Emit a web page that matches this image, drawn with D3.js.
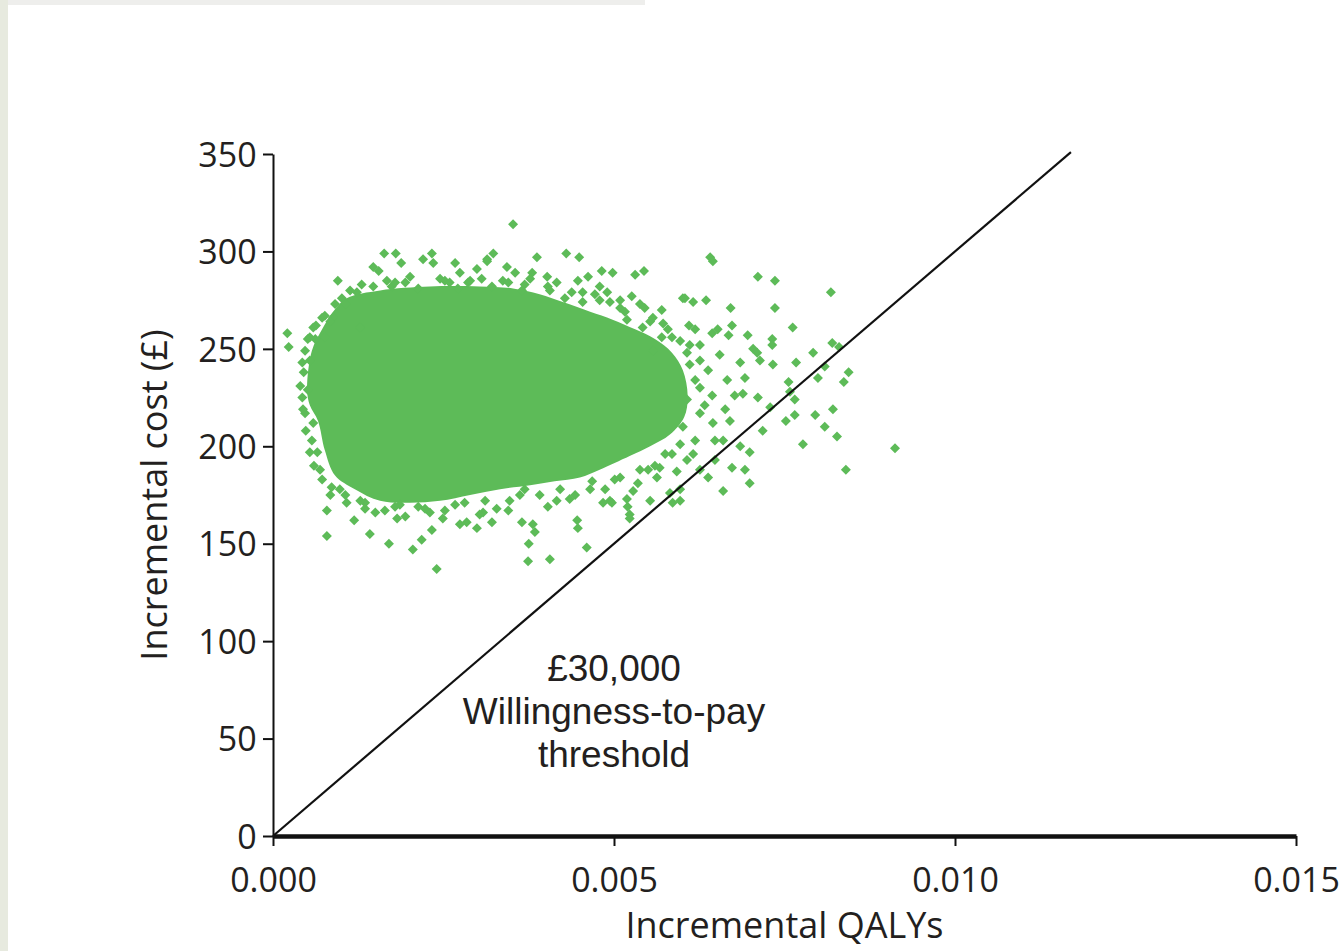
<!DOCTYPE html>
<html>
<head>
<meta charset="utf-8">
<script src="https://cdn.jsdelivr.net/npm/d3@7"></script>
<style>
  body { margin: 0; background: #ffffff; }
  svg text { font-family: "Open Sans", sans-serif; fill: #231f20; }
</style>
</head>
<body>
<div id="chart"></div>
<script>
// ---- data ----
// incremental QALYs / incremental cost (£) tick values
const xTicks = [0, 0.005, 0.010, 0.015];
const yTicks = [0, 50, 100, 150, 200, 250, 300, 350];

// willingness-to-pay threshold (£ per QALY)
const wtp = 30000;
const thresholdLabel = ["£30,000", "Willingness-to-pay", "threshold"];

// outline of the solid, fully overplotted part of the cloud [qaly, cost]
const coreOutline = [
  [0.00050, 229], [0.00057, 249], [0.00072, 260], [0.00088, 269], [0.00108, 276],
  [0.00157, 280], [0.00230, 282], [0.00303, 282], [0.00352, 281], [0.00391, 278],
  [0.00425, 274], [0.00465, 269], [0.00498, 265], [0.00531, 260], [0.00560, 255],
  [0.00585, 248], [0.00601, 239], [0.00608, 226], [0.00603, 215], [0.00582, 206],
  [0.00553, 200], [0.00523, 195], [0.00479, 188], [0.00450, 184], [0.00413, 182],
  [0.00377, 180], [0.00333, 178], [0.00289, 175], [0.00245, 172], [0.00201, 171],
  [0.00157, 172], [0.00120, 178], [0.00091, 185], [0.00076, 198], [0.00066, 213],
  [0.00054, 221]
];

// individual simulations that stand out around the edge of the cloud [qaly, cost]
const scatterPoints = [
  // upper fringe
  [0.00163, 299], [0.00180, 299], [0.00147, 292], [0.00155, 290], [0.00095, 285],
  [0.00188, 294], [0.00220, 296], [0.00233, 299], [0.00235, 294], [0.00267, 294],
  [0.00299, 291], [0.00314, 296], [0.00167, 285], [0.00201, 287], [0.00245, 286],
  [0.00274, 289], [0.00101, 276], [0.00123, 279], [0.00147, 282], [0.00072, 266],
  [0.00059, 261], [0.00088, 266], [0.00021, 258], [0.00023, 251], [0.00051, 255],
  [0.00076, 256], [0.00054, 244], [0.00051, 229], [0.00128, 261],
  [0.00352, 314], [0.00323, 299], [0.00314, 295], [0.00387, 297], [0.00430, 299],
  [0.00449, 297], [0.00482, 290], [0.00498, 289], [0.00531, 288], [0.00544, 290],
  [0.00462, 287], [0.00343, 292], [0.00355, 289], [0.00380, 289], [0.00402, 287],
  [0.00416, 284], [0.00454, 279], [0.00479, 282], [0.00490, 279], [0.00526, 277],
  [0.00601, 276], [0.00545, 271], [0.00570, 270], [0.00557, 266], [0.00542, 261],
  [0.00572, 263], [0.00585, 256], [0.00597, 254], [0.00607, 248], [0.00570, 256],
  [0.00557, 249], [0.00509, 271], [0.00519, 265], [0.00337, 285], [0.00428, 276],
  [0.00454, 274],
  [0.00113, 280], [0.00130, 283], [0.00174, 282], [0.00194, 284], [0.00213, 281],
  [0.00252, 285], [0.00271, 281], [0.00286, 284], [0.00306, 286], [0.00321, 282],
  [0.00345, 284], [0.00365, 280], [0.00377, 286], [0.00403, 282], [0.00438, 279],
  [0.00447, 285], [0.00472, 278], [0.00509, 275], [0.00538, 273], [0.00516, 269],
  [0.00553, 264], [0.00494, 274],
  // right-hand tail
  [0.00641, 297], [0.00645, 295], [0.00711, 287], [0.00736, 285], [0.00818, 279],
  [0.00604, 276], [0.00616, 274], [0.00635, 275], [0.00671, 271], [0.00736, 271],
  [0.00610, 262], [0.00673, 262], [0.00652, 260], [0.00644, 258], [0.00668, 257],
  [0.00762, 261], [0.00696, 257], [0.00732, 255], [0.00732, 252], [0.00704, 250],
  [0.00710, 248], [0.00792, 248], [0.00820, 253], [0.00830, 251], [0.00767, 243],
  [0.00733, 242], [0.00714, 244], [0.00685, 243], [0.00809, 241], [0.00844, 238],
  [0.00837, 233], [0.00799, 235], [0.00756, 233], [0.00692, 235], [0.00666, 234],
  [0.00758, 228], [0.00765, 224], [0.00821, 219], [0.00795, 216], [0.00809, 210],
  [0.00827, 205], [0.00765, 216], [0.00752, 213], [0.00718, 208], [0.00777, 201],
  [0.00912, 199], [0.00840, 188], [0.00729, 220], [0.00711, 225], [0.00689, 227],
  [0.00699, 197], [0.00685, 200], [0.00673, 189], [0.00692, 188], [0.00648, 193],
  [0.00660, 203], [0.00645, 212], [0.00670, 213], [0.00626, 217], [0.00626, 230],
  [0.00607, 224], [0.00601, 210], [0.00626, 188], [0.00660, 177], [0.00699, 181],
  [0.00597, 172], [0.00582, 176], [0.00553, 172], [0.00520, 169], [0.00523, 165],
  [0.00494, 172],
  [0.00619, 260], [0.00626, 252], [0.00638, 239], [0.00619, 234], [0.00644, 226],
  [0.00633, 221], [0.00648, 203], [0.00616, 196], [0.00638, 184], [0.00611, 242],
  [0.00655, 247], [0.00677, 226], [0.00663, 219],
  // lower fringe
  [0.00321, 161], [0.00308, 166], [0.00365, 161], [0.00381, 160], [0.00384, 156],
  [0.00375, 150], [0.00374, 141], [0.00406, 142], [0.00446, 162], [0.00447, 158],
  [0.00460, 148], [0.00523, 163], [0.00519, 173], [0.00586, 171], [0.00597, 178],
  [0.00484, 171], [0.00497, 171], [0.00328, 168], [0.00345, 167], [0.00403, 169],
  [0.00416, 172], [0.00435, 173], [0.00528, 177], [0.00550, 188], [0.00567, 189],
  [0.00592, 187], [0.00563, 184], [0.00607, 193],
  [0.00047, 217], [0.00059, 212], [0.00065, 197], [0.00086, 179], [0.00079, 167],
  [0.00079, 154], [0.00119, 162], [0.00142, 155], [0.00170, 150], [0.00205, 147],
  [0.00218, 152], [0.00233, 157], [0.00240, 137], [0.00150, 166], [0.00182, 163],
  [0.00194, 164], [0.00230, 166], [0.00249, 163], [0.00274, 160], [0.00284, 161],
  [0.00299, 158], [0.00303, 165], [0.00108, 171], [0.00135, 168], [0.00213, 169],
  [0.00106, 175], [0.00135, 171], [0.00164, 167], [0.00186, 170], [0.00223, 168],
  [0.00252, 167], [0.00281, 171], [0.00311, 172], [0.00347, 172], [0.00369, 178],
  [0.00391, 175], [0.00421, 178], [0.00443, 175], [0.00468, 182], [0.00487, 178],
  [0.00509, 184], [0.00535, 181], [0.00560, 190], [0.00585, 196], [0.00597, 201],
  // left fringe
  [0.00179, 284], [0.00259, 284], [0.00289, 285], [0.00369, 283], [0.00106, 273],
  [0.00084, 264], [0.00062, 255], [0.00045, 238], [0.00043, 225], [0.00057, 203],
  [0.00069, 188], [0.00098, 178], [0.00128, 172], [0.00179, 169], [0.00267, 170],
  [0.00362, 175], [0.00465, 178], [0.00501, 183], [0.00538, 188], [0.00575, 196],
  [0.00619, 203], [0.00626, 244], [0.00611, 252], [0.00579, 260], [0.00479, 275],
  [0.00406, 280],
  [0.00091, 273], [0.00076, 267], [0.00063, 262], [0.00054, 256], [0.00047, 249],
  [0.00043, 243], [0.00040, 231], [0.00044, 219], [0.00048, 208], [0.00054, 197],
  [0.00060, 190], [0.00072, 183], [0.00084, 175]
];

// ---- drawing ----
const W = 1343, H = 951;
const margin = {top: 154, right: 47, bottom: 115, left: 273};
const width = W - margin.left - margin.right;
const height = H - margin.top - margin.bottom;
const green = "#5dbb58";

const svg = d3.select("#chart").append("svg")
    .attr("width", W)
    .attr("height", H);

// slide-like frame of the original screenshot
svg.append("rect").attr("x", 0).attr("y", 0).attr("width", 645).attr("height", 5).attr("fill", "#eeeeec");
svg.append("rect").attr("x", 0).attr("y", 0).attr("width", 8).attr("height", H).attr("fill", "#e7eadf");

const g = svg.append("g")
    .attr("transform", "translate(" + margin.left + "," + margin.top + ")");

const x = d3.scaleLinear().domain([0, 0.015]).range([0, width]);
const y = d3.scaleLinear().domain([0, 350]).range([height, 0]);

// dense core of the cloud
g.append("path")
    .datum(coreOutline)
    .attr("d", d3.line().x(d => x(d[0])).y(d => y(d[1])).curve(d3.curveCatmullRomClosed))
    .attr("fill", green);

// scattered simulations as diamonds
const diamond = d3.symbol().type(d3.symbolSquare).size(50);
g.selectAll(".pt")
    .data(scatterPoints)
    .enter()
    .append("path")
    .attr("class", "pt")
    .attr("d", diamond)
    .attr("transform", d => "translate(" + x(d[0]) + "," + y(d[1]) + ") rotate(45)")
    .attr("fill", green);

// threshold line, cost = wtp * QALY
const maxQ = 351 / wtp;
g.append("line")
    .attr("x1", x(0)).attr("y1", y(0))
    .attr("x2", x(maxQ)).attr("y2", y(wtp * maxQ))
    .attr("stroke", "#111")
    .attr("stroke-width", 2.2);

// axes
const xAxis = d3.axisBottom(x).tickValues(xTicks).tickFormat(d3.format(".3f")).tickSize(10).tickSizeOuter(0);
const yAxis = d3.axisLeft(y).tickValues(yTicks).tickSize(10).tickSizeOuter(0);

const xg = g.append("g").attr("transform", "translate(0," + height + ")").call(xAxis);
const yg = g.append("g").call(yAxis);

xg.select(".domain").attr("stroke", "#111").attr("stroke-width", 4.5);
yg.select(".domain").attr("stroke", "#111").attr("stroke-width", 2);
xg.selectAll(".tick line").attr("stroke", "#111").attr("stroke-width", 2);
yg.selectAll(".tick line").attr("stroke", "#111").attr("stroke-width", 2);
xg.selectAll(".tick text").attr("font-size", 34).attr("dy", "1.25em").style("font-family", "Open Sans");
yg.selectAll(".tick text").attr("font-size", 34).attr("dx", "-0.1em").attr("dy", "0.36em").style("font-family", "Open Sans");
xg.select(".domain").raise();

// axis titles
g.append("text")
    .attr("x", x(0.0075))
    .attr("y", height + 102)
    .attr("text-anchor", "middle")
    .attr("font-size", 36)
    .text("Incremental QALYs");

g.append("text")
    .attr("transform", "translate(-106," + (height / 2) + ") rotate(-90)")
    .attr("text-anchor", "middle")
    .attr("font-size", 36)
    .text("Incremental cost (£)");

// threshold annotation, one text per line so the lines do not collide
g.selectAll(".wtp-label")
    .data(thresholdLabel)
    .enter()
    .append("text")
    .attr("class", "wtp-label")
    .attr("x", x(0.0050))
    .attr("y", (d, i) => y(79) - 1 + i * 43)
    .attr("text-anchor", "middle")
    .attr("font-size", 37)
    .style("font-family", "'Liberation Sans', Arial, sans-serif")
    .text(d => d);
</script>
</body>
</html>
